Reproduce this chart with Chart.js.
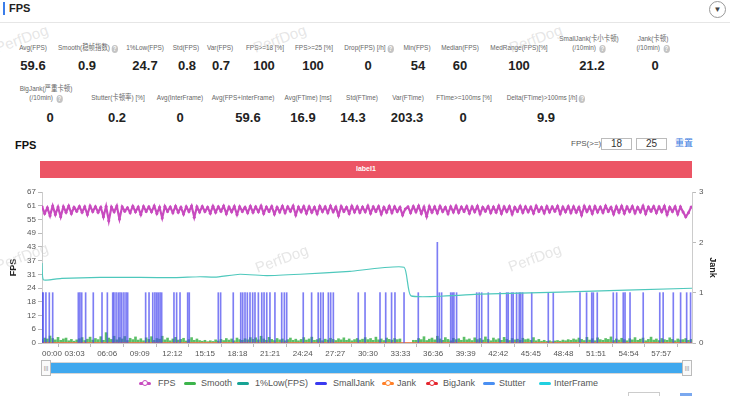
<!DOCTYPE html>
<html>
<head>
<meta charset="utf-8">
<script src="https://cdn.jsdelivr.net/npm/chart.js@4.4.1/dist/chart.umd.min.js"></script>
<style>
  html, body { margin: 0; padding: 0; background: #fff; }
  body { width: 730px; height: 396px; overflow: hidden; position: relative;
         font-family: "Liberation Sans", "Noto Sans CJK SC", sans-serif; color: #333; }
  .abs { position: absolute; white-space: nowrap; }
  .lbl { position: absolute; transform: translateX(-50%) scaleX(0.8); text-align: center; white-space: nowrap;
         font-size: 8px; line-height: 9px; color: #666; }
  .val { position: absolute; transform: translateX(-50%); white-space: nowrap;
         font-size: 13px; line-height: 16px; font-weight: bold; color: #222; }
  .q { display: inline-block; width: 8px; height: 8px; border-radius: 50%; background: #c4c4c4;
       color: #fff; font-size: 7px; line-height: 8px; text-align: center; font-weight: bold;
       vertical-align: -1px; margin-left: 2px; }
  .wm { position: absolute; font-size: 15px; color: rgba(200,200,200,0.45); transform: rotate(-20deg);
        pointer-events: none; z-index: 10; }
  .lg-ico { position: absolute; width: 12px; height: 3px; border-radius: 2px; top: 382px; }
  .lg-dot { position: absolute; left: 3px; top: -2px; width: 4px; height: 4px; border-radius: 50%;
            background: #fff; border: 1px solid currentColor; }
  .lg-txt { position: absolute; top: 378px; font-size: 9px; line-height: 11px; color: #555; }
  .box { position: absolute; top: 138px; width: 29px; height: 10px; border: 1px solid #bbb;
         font-size: 10px; line-height: 10px; text-align: center; color: #333; }
</style>
</head>
<body>

<!-- header -->
<div class="abs" style="left:3px;top:2px;width:2px;height:13px;background:#3b7de9"></div>
<div class="abs" style="left:9px;top:2px;font-size:11px;line-height:13px;font-weight:bold;color:#222">FPS</div>
<div class="abs" style="left:709px;top:1px;width:15px;height:15px;border:1px solid #999;border-radius:50%;text-align:center;font-size:8px;line-height:16px;color:#444">&#9660;</div>
<div class="abs" style="left:0;top:22px;width:730px;height:1px;background:#e6e6e6"></div>

<!-- stats row 1 -->
<div class="lbl" style="left:33px;top:43px">Avg(FPS)</div>
<div class="lbl" style="left:88px;top:43px">Smooth(稳帧指数)<span class="q">?</span></div>
<div class="lbl" style="left:145px;top:43px">1%Low(FPS)</div>
<div class="lbl" style="left:186px;top:43px">Std(FPS)</div>
<div class="lbl" style="left:220px;top:43px">Var(FPS)</div>
<div class="lbl" style="left:265px;top:43px">FPS&gt;=18 [%]</div>
<div class="lbl" style="left:314px;top:43px">FPS&gt;=25 [%]</div>
<div class="lbl" style="left:369px;top:43px">Drop(FPS) [/h]<span class="q">?</span></div>
<div class="lbl" style="left:417px;top:43px">Min(FPS)</div>
<div class="lbl" style="left:460px;top:43px">Median(FPS)</div>
<div class="lbl" style="left:519px;top:43px">MedRange(FPS)[%]</div>
<div class="lbl" style="left:589px;top:34px">SmallJank(卡小卡顿)<br>(/10min) <span class="q">?</span></div>
<div class="lbl" style="left:653px;top:34px">Jank(卡顿)<br>(/10min) <span class="q">?</span></div>

<div class="val" style="left:33px;top:58px">59.6</div>
<div class="val" style="left:87px;top:58px">0.9</div>
<div class="val" style="left:145px;top:58px">24.7</div>
<div class="val" style="left:187px;top:58px">0.8</div>
<div class="val" style="left:221px;top:58px">0.7</div>
<div class="val" style="left:264px;top:58px">100</div>
<div class="val" style="left:313px;top:58px">100</div>
<div class="val" style="left:368px;top:58px">0</div>
<div class="val" style="left:418px;top:58px">54</div>
<div class="val" style="left:460px;top:58px">60</div>
<div class="val" style="left:519px;top:58px">100</div>
<div class="val" style="left:592px;top:58px">21.2</div>
<div class="val" style="left:655px;top:58px">0</div>

<!-- stats row 2 -->
<div class="lbl" style="left:46px;top:84px">BigJank(严重卡顿)<br>(/10min) <span class="q">?</span></div>
<div class="lbl" style="left:118px;top:93px">Stutter(卡顿率) [%]</div>
<div class="lbl" style="left:180px;top:93px">Avg(InterFrame)</div>
<div class="lbl" style="left:243px;top:93px">Avg(FPS+InterFrame)</div>
<div class="lbl" style="left:308px;top:93px">Avg(FTime) [ms]</div>
<div class="lbl" style="left:362px;top:93px">Std(FTime)</div>
<div class="lbl" style="left:408px;top:93px">Var(FTime)</div>
<div class="lbl" style="left:464px;top:93px">FTime&gt;=100ms [%]</div>
<div class="lbl" style="left:546px;top:93px">Delta(FTime)&gt;100ms [/h]<span class="q">?</span></div>

<div class="val" style="left:50px;top:110px">0</div>
<div class="val" style="left:117px;top:110px">0.2</div>
<div class="val" style="left:180px;top:110px">0</div>
<div class="val" style="left:248px;top:110px">59.6</div>
<div class="val" style="left:303px;top:110px">16.9</div>
<div class="val" style="left:353px;top:110px">14.3</div>
<div class="val" style="left:407px;top:110px">203.3</div>
<div class="val" style="left:463px;top:110px">0</div>
<div class="val" style="left:546px;top:110px">9.9</div>

<!-- chart title & controls -->
<div class="abs" style="left:15px;top:139px;font-size:11px;line-height:13px;font-weight:bold;color:#111">FPS</div>
<div class="abs" style="left:571px;top:139px;font-size:8px;line-height:10px;color:#555">FPS(&gt;=)</div>
<div class="box" style="left:601px">18</div>
<div class="box" style="left:636px">25</div>
<div class="abs" style="left:675px;top:137px;font-size:9px;line-height:12px;color:#3a7be0">重置</div>

<div class="abs" style="left:40px;top:161px;width:652px;height:17px;background:#ec5565"></div>
<div class="abs" style="left:356px;top:164px;font-size:7px;line-height:10px;color:#fff;font-weight:bold">label1</div>

<canvas id="fpsChart" width="730" height="180" style="position:absolute;left:0;top:180px"></canvas>

<!-- zoom slider -->
<div class="abs" style="left:42px;top:362px;width:650px;height:12px;background:#3fa8ee;border:1px solid #d6d6d6;box-sizing:border-box"></div>
<div class="abs" style="left:41px;top:360px;width:10px;height:16px;background:#fafafa;border:1px solid #bbb;box-sizing:border-box;font-size:6px;line-height:14px;text-align:center;color:#888">|||</div>
<div class="abs" style="left:682px;top:360px;width:10px;height:16px;background:#fafafa;border:1px solid #bbb;box-sizing:border-box;font-size:6px;line-height:14px;text-align:center;color:#888">|||</div>

<!-- legend -->
<div class="lg-ico" style="left:139px;background:#c84bbf;color:#c84bbf"><span class="lg-dot"></span></div>
<div class="lg-txt" style="left:158px">FPS</div>
<div class="lg-ico" style="left:184px;background:#3cb44b"></div>
<div class="lg-txt" style="left:201px">Smooth</div>
<div class="lg-ico" style="left:237px;background:#17a394"></div>
<div class="lg-txt" style="left:255px">1%Low(FPS)</div>
<div class="lg-ico" style="left:315px;background:#3a3af0"></div>
<div class="lg-txt" style="left:333px">SmallJank</div>
<div class="lg-ico" style="left:382px;background:#ff7f27;color:#ff7f27"><span class="lg-dot"></span></div>
<div class="lg-txt" style="left:397px">Jank</div>
<div class="lg-ico" style="left:426px;background:#e5252e;color:#e5252e"><span class="lg-dot"></span></div>
<div class="lg-txt" style="left:443px">BigJank</div>
<div class="lg-ico" style="left:483px;background:#4a8ff2"></div>
<div class="lg-txt" style="left:499px">Stutter</div>
<div class="lg-ico" style="left:539px;background:#21d0e0"></div>
<div class="lg-txt" style="left:554px">InterFrame</div>

<div class="abs" style="left:628px;top:392px;width:30px;height:8px;border:1px solid #ccc;border-bottom:none"></div>
<div class="abs" style="left:680px;top:393px;width:12px;height:4px;background:#7aa8ef"></div>

<!-- watermarks -->
<div class="wm" style="left:-6px;top:30px">PerfDog</div>
<div class="wm" style="left:252px;top:30px">PerfDog</div>
<div class="wm" style="left:508px;top:30px">PerfDog</div>
<div class="wm" style="left:-6px;top:248px">PerfDog</div>
<div class="wm" style="left:254px;top:250px">PerfDog</div>
<div class="wm" style="left:507px;top:249px">PerfDog</div>

<script>
// FPS, one sample every 15 s
const sampleStep = 15;
const fps = [
  60.5,57.5,60,56.5,60.8,57,60.3,56,60.5,58,60.8,57.5,60.2,58.5,60.6,58,60.4,57,60.8,58.3,
  60.5,58,60.2,56,60.6,54.2,60.3,58.2,60.8,55,60.4,58.5,60,57.8,60.7,58.2,60.3,57,60.6,58.4,
  60.4,58.2,60.8,57.5,60.2,55.5,60.6,58.4,60.3,57.8,60.7,58,60.2,57.2,60.5,58.3,60.8,55.8,60.4,58.1,
  60.6,58.3,60.2,57.6,60.7,58,60.4,58.5,60.8,57.4,60.3,58.2,60.6,57,60.5,58.4,60.2,57.8,60.7,58,
  60.4,58.2,60.8,57.5,60.3,58.4,60.6,57.2,60.2,58.1,60.7,57.8,60.4,58.5,60.8,56.8,60.3,58.2,60.6,57.6,
  60.5,58,60.2,57.4,60.7,58.3,60.4,57.8,60.8,58.2,60.3,56.6,60.6,58.4,60.2,57.5,60.7,58.1,60.5,57.9,
  60.3,58.2,60.8,57.6,60.4,58.4,60.6,57.2,60.2,58,60.7,57.8,60.5,58.3,60.2,56.8,59.5,60.4,57.8,60.6,
  58.2,60.8,57.5,60.3,56.2,60.6,58,60.4,57.7,60.7,58.3,60.2,57.4,60.5,58.1,60.8,57.9,60.3,58.4,60.6,
  57.6,60.4,58.2,60.7,57.3,60.2,58.5,60.6,57.8,60.3,58,60.8,57.5,60.4,58.3,60.6,57.2,60.2,58.4,60.7,
  57.9,60.5,58.2,60.3,57.6,60.8,58.4,60.2,57.7,60.6,58.1,60.4,58.5,60.7,57.4,60.3,58.2,60.6,57.8,60.5,
  58,60.2,56.8,60.7,58.3,60.4,57.5,60.6,58.1,60.3,57.9,60.8,58.4,60.2,57.2,60.5,58,60.7,57.6,60.4,
  58.3,60.6,57.7,60.2,58.1,60.8,57.4,60.3,58.5,60.6,57.8,60.4,58.2,60.7,57,60.2,58.3,60.5,57.2,60.4,
  58.1,56,57.8,60.3
];
const smooth = [
  1.5,2.2,1.8,3.1,2.0,1.4,2.5,1.2,1.8,2.2,1.0,1.6,0.8,1.4,1.9,2.4,1.1,1.7,2.6,1.3,
  2.0,1.5,2.8,1.2,4.6,2.2,1.6,3.0,1.4,2.4,1.8,2.9,1.1,2.1,1.5,2.7,1.3,1.9,1.0,2.3,
  1.6,2.8,1.2,2.0,1.7,3.0,1.4,2.2,1.0,1.8,2.5,1.3,1.6,2.1,0.9,1.5,2.4,1.2,1.8,1.1,
  0.8,1.2,0.6,1.0,0.7,1.4,0.9,1.6,1.1,2.0,1.3,1.8,1.0,2.2,1.5,1.2,1.9,1.4,2.4,1.6,
  2.3,1.4,3.0,1.8,1.2,2.5,1.6,1.1,2.0,1.4,1.8,1.0,1.5,2.2,1.2,1.7,1.0,1.6,2.4,1.3,
  1.8,2.6,1.2,1.5,2.0,1.0,1.7,1.3,2.1,1.6,1.1,1.9,1.4,2.3,1.2,1.8,1.0,1.5,2.0,1.3,
  1.7,2.4,1.5,2.0,1.2,2.6,1.4,1.8,1.1,2.2,1.6,1.3,2.0,1.5,1.8,0,0,0,0,1.2,
  1.2,2.0,1.5,2.8,1.1,1.7,2.2,1.4,3.0,1.8,1.2,2.4,1.6,1.0,2.1,1.5,1.9,1.2,2.6,1.4,
  1.8,1.1,2.3,1.5,2.0,1.3,2.7,1.6,1.0,2.2,1.4,1.9,1.2,2.5,1.6,1.1,2.0,1.4,1.7,1.2,
  2.1,1.5,1.8,1.2,2.4,1.0,1.6,0.8,1.2,0.7,1.0,0.6,0.9,1.1,0.8,1.3,1.0,1.5,1.2,1.8,
  1.4,2.2,1.6,1.1,2.5,1.3,1.9,1.0,2.3,1.5,1.2,2.0,1.6,2.7,1.1,1.8,1.3,2.1,1.5,1.0,
  1.9,1.4,2.4,1.2,1.7,2.2,1.0,1.6,2.6,1.3,1.8,1.1,2.0,1.5,1.2,2.3,1.6,1.0,1.8,1.4,
  1.5,2.0,1.2,1.6
];
// 1%Low(FPS) curve (seconds, fps)
const lowTimes  = [0, 8, 112, 326, 550, 747, 887, 971, 1112, 1263, 1449, 1729, 2033, 2072, 2459, 2909, 3650];
const lowValues = [35.5, 28, 28.7, 29.1, 29.1, 29.0, 29.4, 29.2, 30.5, 29.9, 30.5, 31.8, 33.6, 20.9, 21.7, 22.6, 24.3];
// SmallJank events (seconds) and counts
const smallJankTimes = [2,7,22,41,60,204,213,223,245,288,337,367,397,404,416,428,438,448,460,472,481,
  582,601,622,634,644,653,663,672,741,756,775,818,827,990,1003,1074,1116,1127,1140,1153,1168,1183,
  1196,1215,1234,1247,1262,1280,1308,1346,1361,1374,1467,1514,1551,1565,1579,1608,1621,1636,1776,
  1814,1898,1930,1963,1982,2033,2113,2220,2231,2244,2295,2304,2313,2328,2441,2455,2469,2506,2572,
  2609,2618,2637,2646,2665,2680,2688,2699,2750,2843,2871,3021,3058,3087,3096,3118,3208,3227,3264,
  3274,3302,3376,3469,3488,3545,3586,3620,3642];
const smallJank = [1,1,1,1,1,1,1,1,1,1,1,1,1,1,1,1,1,1,1,1,1,
  1,1,1,1,1,1,1,1,1,1,1,1,1,1,1,1,1,1,1,1,1,1,
  1,1,1,1,1,1,1,1,1,1,1,1,1,1,1,1,1,1,1,
  1,1,1,1,1,1,1,2,1,1,1,1,1,1,1,1,1,1,1,
  1,1,1,1,1,1,1,1,1,1,1,1,1,1,1,1,1,1,1,
  1,1,1,1,1,1,1,1,1];
const jankTimes = [0, 3650];
const jank = [0, 0];
const bigJank = [0, 0];

const xTickLabels = ['00:00','03:03','06:06','09:09','12:12','15:15','18:18','21:21','24:24','27:27',
  '30:30','33:33','36:36','39:39','42:42','45:45','48:48','51:51','54:54','57:57'];
const yTickLabels = ['0','6','12','18','24','31','37','43','49','55','61','67'];
const yMax = 67;
const xMax = 3650;

const toSec = s => { const [m, ss] = s.split(':').map(Number); return m * 60 + ss; };
const pts = (xs, ys) => ys.map((v, i) => ({ x: xs[i], y: v }));
const sampleTimes = fps.map((_, i) => i * sampleStep);

Chart.defaults.font.family = '"Liberation Sans", "Noto Sans CJK SC", sans-serif';
Chart.defaults.font.size = 8;
Chart.defaults.color = '#555';

new Chart(document.getElementById('fpsChart'), {
  type: 'line',
  data: {
    datasets: [
      {
        label: 'FPS', data: pts(sampleTimes, fps), yAxisID: 'y',
        borderColor: '#c84bbf', backgroundColor: '#c84bbf', borderWidth: 2.2,
        pointRadius: 1.5, pointBorderWidth: 0, tension: 0
      },
      {
        label: '1%Low(FPS)', data: pts(lowTimes, lowValues), yAxisID: 'y',
        borderColor: '#4ec8bc', borderWidth: 1.2, pointRadius: 0, tension: 0.15
      },
      {
        type: 'bar', label: 'SmallJank', data: pts(smallJankTimes, smallJank), yAxisID: 'y1',
        backgroundColor: 'rgba(70,70,240,0.7)', barThickness: 1, grouped: false
      },
      {
        label: 'Jank', data: pts(jankTimes, jank), yAxisID: 'y1',
        borderColor: '#ff8a3d', borderWidth: 1.2, pointRadius: 0
      },
      {
        label: 'BigJank', data: pts(jankTimes, bigJank), yAxisID: 'y1',
        borderColor: '#e5252e', borderWidth: 1, pointRadius: 0
      },
      {
        type: 'bar', label: 'Smooth', data: pts(sampleTimes, smooth), yAxisID: 'y',
        backgroundColor: 'rgba(50,175,65,0.8)', barThickness: 2, grouped: false
      }
    ]
  },
  options: {
    responsive: false,
    animation: false,
    devicePixelRatio: 1,
    layout: { padding: { top: 12, left: 0, right: 0, bottom: 0 } },
    plugins: { legend: { display: false }, tooltip: { enabled: false } },
    scales: {
      x: {
        type: 'linear', min: 0, max: xMax, offset: false,
        afterBuildTicks: s => { s.ticks = xTickLabels.map(l => ({ value: toSec(l) })); },
        afterFit: s => { s.height = 17; },
        grid: { drawOnChartArea: false, drawTicks: true, tickLength: 4, color: '#bbb' },
        border: { color: '#ccc' },
        ticks: {
          autoSkip: false, maxRotation: 0, padding: 2,
          callback: (v, i) => (i === 0 ? '         ' : '') + xTickLabels[i]
        }
      },
      y: {
        position: 'left', min: 0, max: yMax,
        afterBuildTicks: s => {
          s.ticks = yTickLabels.map((_, i) => ({ value: i * yMax / (yTickLabels.length - 1) }));
        },
        afterFit: s => { s.width = 42; },
        grid: { drawOnChartArea: false, drawTicks: true, tickLength: 4, color: '#bbb' },
        border: { color: '#ccc' },
        ticks: { autoSkip: false, padding: 2, callback: (v, i) => yTickLabels[i] },
        title: { display: true, text: 'FPS', color: '#222', font: { size: 9, weight: 'bold' }, padding: { top: 8, bottom: 0 } }
      },
      y1: {
        position: 'right', min: 0, max: 3,
        afterFit: s => { s.width = 38; },
        grid: { drawOnChartArea: false, drawTicks: true, tickLength: 4, color: '#bbb' },
        border: { color: '#ccc' },
        ticks: { stepSize: 1, padding: 3 },
        title: { display: true, text: 'Jank', color: '#222', font: { size: 9, weight: 'bold' }, padding: { top: 12, bottom: 0 } }
      }
    }
  }
});
</script>
</body>
</html>
